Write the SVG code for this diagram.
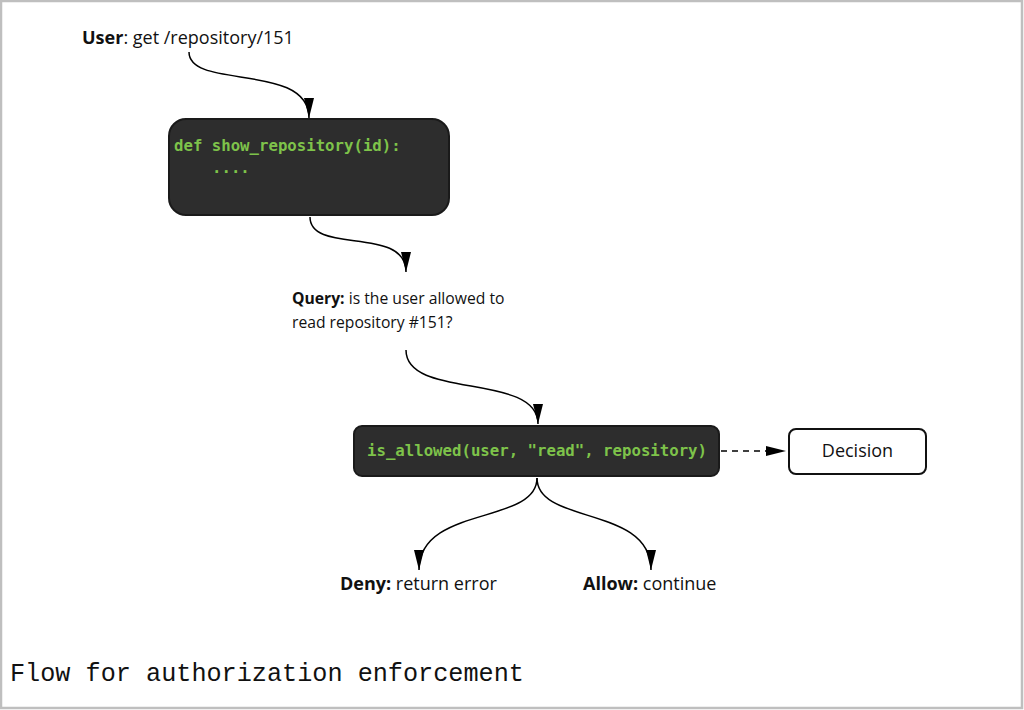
<svg xmlns="http://www.w3.org/2000/svg" width="1024" height="710" viewBox="0 0 1024 710">
<style>
.lbl{font-family:"Open Sans","Liberation Sans",sans-serif;fill:#111;}
.b{font-weight:bold;}
.code{font-family:"DejaVu Sans Mono","Liberation Mono",monospace;font-weight:bold;fill:#7ec34a;font-size:15.7px;}
.dark{fill:#2d2d2d;stroke:#1a1a1a;stroke-width:2;}
.conn{fill:none;stroke:#000;stroke-width:1.5;}
</style>
<defs>
<marker id="ah" markerUnits="userSpaceOnUse" markerWidth="20" markerHeight="10" refX="20" refY="5" orient="auto">
<path d="M0,0 L20,5 L0,10 z" fill="#000"/>
</marker>
</defs>
<rect x="0" y="0" width="1024" height="710" fill="#fff"/>
<rect x="1" y="1" width="1021" height="707" fill="none" stroke="#bfbfbf" stroke-width="2.5"/>

<g id="connectors">
<path class="conn" d="M189,52 C189,90 309,62 309,118" marker-end="url(#ah)"/>
<path class="conn" d="M310,217 C310,255 406,225 406,272" marker-end="url(#ah)"/>
<path class="conn" d="M406,350 C406,400 538,372 538,424" marker-end="url(#ah)"/>
<path class="conn" d="M537,478 C537,525 419,505 419,570" marker-end="url(#ah)"/>
<path class="conn" d="M537,478 C537,525 651,505 651,570" marker-end="url(#ah)"/>
<path class="conn" d="M721,451 L786,451" stroke-dasharray="6,5" marker-end="url(#ah)"/>
</g>

<g id="user">
<text class="lbl" x="82" y="44" font-size="18"><tspan class="b">User</tspan>: get /repository/151</text>
</g>

<g id="show_repository">
<rect class="dark" x="169" y="119" width="280" height="96" rx="17"/>
<text class="code" x="174" y="151">def show_repository(id):</text>
<text class="code" x="212" y="173">....</text>
</g>

<g id="query">
<text class="lbl" x="292" y="304" font-size="15.7"><tspan class="b">Query:</tspan> is the user allowed to</text>
<text class="lbl" x="292" y="328" font-size="15.7">read repository #151?</text>
</g>

<g id="is_allowed">
<rect class="dark" x="354" y="426" width="365" height="50" rx="8"/>
<text class="code" x="367" y="456">is_allowed(user, "read", repository)</text>
</g>

<g id="decision">
<rect x="789" y="429" width="137" height="45" rx="7" fill="#fff" stroke="#111" stroke-width="2"/>
<text class="lbl" x="857.5" y="457" font-size="18" text-anchor="middle">Decision</text>
</g>

<g id="deny">
<text class="lbl" x="340" y="590" font-size="18"><tspan class="b">Deny:</tspan> return error</text>
</g>

<g id="allow">
<text class="lbl" x="583" y="590" font-size="18"><tspan class="b">Allow:</tspan> continue</text>
</g>

<g id="caption">
<text x="10" y="681" font-family="Liberation Mono, monospace" font-size="25.2" fill="#111">Flow for authorization enforcement</text>
</g>
</svg>
